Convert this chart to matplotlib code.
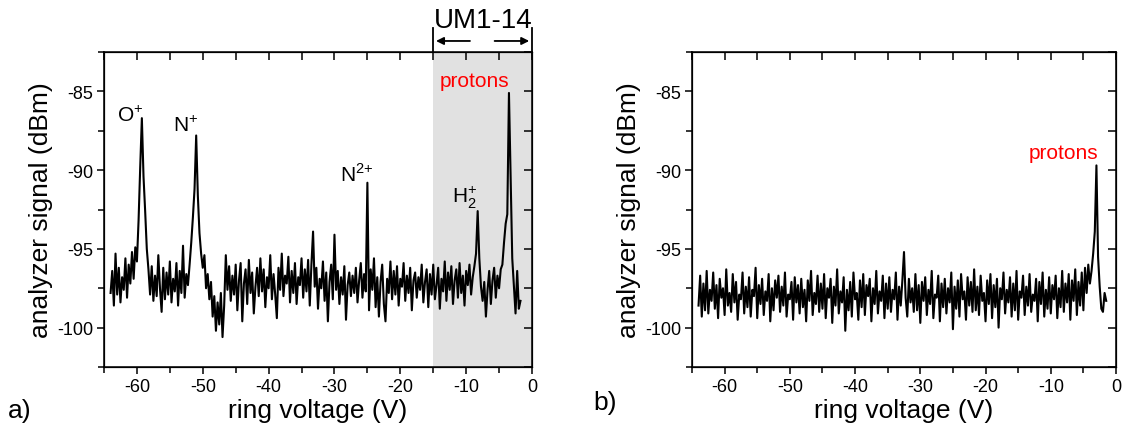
import numpy as np
import matplotlib.pyplot as plt
from matplotlib.ticker import MultipleLocator
import matplotlib.transforms as mtransforms

plt.rcParams['font.family'] = ['Liberation Sans', 'DejaVu Sans']
plt.rcParams['mathtext.fontset'] = 'custom'
plt.rcParams['mathtext.rm'] = 'Liberation Sans'
plt.rcParams['axes.unicode_minus'] = False

# panel a) scan, ring voltage from -64 V in 0.25 V steps
volt_a_start = -64.0
volt_step = 0.25
signal_a = [
    -97.8, -96.4, -98.6, -95.3, -97.9, -96.2, -98.4, -96.8, -97.6, -95.6,
    -98.1, -96.0, -97.2, -95.2, -96.9, -94.9, -95.8, -93.2, -89.8, -86.7,
    -90.4, -92.6, -95.0, -96.3, -97.9, -96.1, -98.3, -96.7, -98.0, -95.4,
    -97.5, -99.0, -96.2, -98.2, -96.5, -97.9, -95.8, -98.4, -96.9, -97.7,
    -95.9, -98.6, -96.4, -97.8, -94.8, -98.1, -96.6, -97.3, -96.0, -94.6,
    -93.0, -91.2, -87.8, -91.6, -94.0, -95.3, -96.2, -95.4, -97.5, -96.6,
    -98.2, -97.1, -99.3, -98.0, -100.2, -98.4, -99.8, -97.8, -100.6, -98.6,
    -95.4, -97.6, -96.1, -98.3, -96.7, -97.9, -96.0, -98.9, -97.0, -95.9,
    -99.6, -97.2, -96.3, -98.5, -95.7, -97.8, -96.5, -99.1, -97.4, -96.2,
    -98.0, -95.6, -97.7, -96.3, -98.7, -96.8, -97.5, -95.4, -98.2, -96.6,
    -97.9, -99.4, -96.2, -97.6, -95.3, -98.0, -96.7, -97.2, -95.5, -98.4,
    -96.4, -97.8, -95.9, -98.5, -96.8, -97.3, -95.6, -98.1, -96.3, -97.7,
    -95.7, -98.6, -96.0, -93.9, -97.4, -96.2, -98.8, -96.9, -97.5, -95.8,
    -98.3, -96.5, -99.6, -97.1, -96.0, -98.2, -94.1, -97.6, -96.4, -98.5,
    -96.8, -97.9, -96.1, -99.5, -97.3, -96.5, -98.0, -96.7, -97.8, -96.2,
    -98.4, -97.0, -95.9, -98.1, -96.6, -97.7, -90.8, -98.9, -96.3, -97.6,
    -95.6, -98.7, -96.8, -99.3, -97.1, -96.0, -98.5, -99.6, -96.9, -97.8,
    -95.8, -98.2, -96.4, -97.9, -96.1, -98.6, -96.9, -97.4, -95.9, -98.3,
    -96.7, -97.8, -96.2, -98.9, -97.0, -96.5, -98.1, -96.8, -97.6, -96.0,
    -98.4, -97.1, -96.3, -98.7, -96.6, -97.9, -96.0, -98.2, -97.3, -96.2,
    -98.8, -96.9, -97.7, -95.8, -98.3, -96.5, -97.6, -96.1, -98.5, -97.0,
    -96.3, -98.1, -95.9, -97.8, -96.7, -98.6, -96.4, -97.3, -96.0, -97.9,
    -96.8, -96.1, -95.3, -92.6, -95.6, -97.4, -98.3, -97.1, -99.3, -97.6,
    -96.4, -98.5, -97.0, -96.2, -98.1, -96.7, -97.5, -96.3, -96.0, -94.6,
    -93.4, -92.8, -85.1, -90.2, -95.6, -97.3, -99.1, -96.4, -98.8, -98.3,
]

# panel b) scan, same steps
volt_b_start = -64.0
signal_b = [
    -98.6, -96.7, -99.3, -97.2, -98.9, -96.4, -99.1, -97.6, -98.3, -96.5,
    -98.8, -97.3, -99.4, -96.9, -98.1, -97.5, -99.2, -96.3, -98.6, -97.8,
    -99.0, -96.6, -98.4, -97.1, -99.5, -97.9, -98.2, -96.5, -99.1, -97.4,
    -98.7, -96.8, -99.3, -97.6, -98.0, -96.2, -99.4, -97.3, -98.5, -96.9,
    -99.2, -97.7, -98.3, -96.6, -99.6, -97.5, -98.9, -97.0, -98.1, -96.7,
    -99.0, -97.4, -98.6, -96.5, -99.3, -97.9, -98.2, -97.1, -99.5, -96.8,
    -98.4, -97.3, -99.1, -96.9, -98.7, -97.6, -99.6, -97.0, -98.3, -96.4,
    -99.2, -97.8, -98.5, -96.7, -99.0, -97.2, -98.8, -96.6, -99.4, -97.5,
    -98.1, -96.9, -99.7, -97.4, -98.6, -96.3, -99.1, -97.7, -98.4, -96.8,
    -100.2, -97.6, -98.9, -97.1, -99.3, -96.5, -98.2, -97.8, -99.5, -97.0,
    -98.7, -96.6, -99.2, -97.3, -98.0, -96.9, -99.6, -97.5, -98.5, -96.4,
    -99.1, -97.7, -98.3, -96.7, -99.4, -97.2, -98.8, -96.8, -99.0, -97.6,
    -98.2, -96.5, -99.5, -97.4, -98.6, -97.0, -95.2, -98.1, -99.3, -96.9,
    -98.4, -97.5, -99.0, -96.6, -98.9, -97.3, -99.7, -97.1, -98.3, -96.8,
    -99.2, -97.6, -98.5, -96.4, -99.4, -97.9, -98.1, -96.7, -99.6, -97.2,
    -98.7, -96.9, -99.1, -97.5, -98.4, -96.5, -100.1, -97.4, -98.8, -97.0,
    -99.3, -96.6, -98.2, -97.7, -99.5, -96.8, -98.6, -97.1, -99.0, -96.3,
    -98.9, -97.4, -99.2, -96.7, -98.3, -97.8, -99.6, -97.0, -98.5, -96.6,
    -99.4, -97.3, -98.7, -96.9, -100.0, -97.5, -98.2, -96.5, -99.1, -97.6,
    -98.4, -96.8, -99.3, -97.2, -98.9, -96.4, -99.5, -97.7, -98.1, -96.7,
    -99.2, -97.4, -98.6, -96.6, -99.0, -97.9, -98.3, -96.9, -99.6, -97.1,
    -98.5, -96.5, -99.3, -97.6, -98.8, -96.8, -99.1, -97.3, -98.2, -96.7,
    -99.4, -97.5, -98.7, -96.4, -99.0, -97.2, -98.4, -96.6, -99.5, -97.0,
    -98.3, -96.3, -99.2, -97.1, -98.6, -96.5, -98.9, -96.2, -97.8, -96.0,
    -97.2, -96.4, -95.3, -93.9, -89.7, -95.5, -97.4, -98.8, -99.0, -97.8,
    -98.3,
]

volt_a = volt_a_start + volt_step * np.arange(len(signal_a))
volt_b = volt_b_start + volt_step * np.arange(len(signal_b))

fig = plt.figure(figsize=(11.27, 4.39), dpi=100)
ax1 = fig.add_axes([104/1127, 71/439, 428/1127, 315/439])
ax2 = fig.add_axes([692/1127, 71/439, 424/1127, 315/439])


def style(ax):
    ax.set_xlim(-65, 0)
    ax.set_ylim(-102.5, -82.5)
    ax.xaxis.set_major_locator(MultipleLocator(10))
    ax.xaxis.set_minor_locator(MultipleLocator(5))
    ax.yaxis.set_major_locator(MultipleLocator(5))
    ax.yaxis.set_minor_locator(MultipleLocator(2.5))
    ax.tick_params(which='major', direction='out', length=5, width=1.1, labelsize=13, pad=3)
    ax.tick_params(which='minor', direction='out', length=4, width=1.1)
    for s in ax.spines.values():
        s.set_linewidth(1.1)
    # mirrored ticks on top and right point inwards
    top = ax.twiny()
    top.set_xlim(ax.get_xlim())
    top.xaxis.set_major_locator(MultipleLocator(5))
    top.tick_params(direction='in', length=6, width=1.1, labeltop=False)
    right = ax.twinx()
    right.set_ylim(ax.get_ylim())
    right.yaxis.set_major_locator(MultipleLocator(2.5))
    right.tick_params(direction='in', length=6, width=1.1, labelright=False)
    ax.set_xlabel('ring voltage (V)', fontsize=19, labelpad=2)
    ax.set_ylabel('analyzer signal (dBm)', fontsize=19, labelpad=3)


# a)
ax1.axvspan(-15, 0, color='#e1e1e1', lw=0, zorder=0)
ax1.plot(volt_a, signal_a, color='black', lw=1.5)
style(ax1)
ax1.text(-61.0, -86.5, r'O$^{+}$', fontsize=15, ha='center', va='center')
ax1.text(-52.6, -87.1, r'N$^{+}$', fontsize=15, ha='center', va='center')
ax1.text(-26.6, -90.2, r'N$^{2{+}}$', fontsize=15, ha='center', va='center')
ax1.text(-10.2, -91.7, r'H$_{2}^{+}$', fontsize=15, ha='center', va='center')
ax1.text(-8.7, -84.3, 'protons', fontsize=15, color='red', ha='center', va='center')

trans = mtransforms.blended_transform_factory(ax1.transData, ax1.transAxes)
for xv in [-15, 0]:
    ax1.plot([xv, xv], [1.0, 1.076], color='black', lw=1.3, transform=trans, clip_on=False)
ax1.annotate('', xy=(-15, 1.035), xytext=(-9.0, 1.035), xycoords=trans, textcoords=trans,
             arrowprops=dict(arrowstyle='-|>', color='black', lw=1.3, mutation_scale=11))
ax1.annotate('', xy=(0, 1.035), xytext=(-6.1, 1.035), xycoords=trans, textcoords=trans,
             arrowprops=dict(arrowstyle='-|>', color='black', lw=1.3, mutation_scale=11))
ax1.text(-7.4, 1.10, 'UM1-14', fontsize=20, ha='center', va='center', transform=trans)

# b)
ax2.plot(volt_b, signal_b, color='black', lw=1.5)
style(ax2)
ax2.text(-8.1, -88.9, 'protons', fontsize=15, color='red', ha='center', va='center')

fig.text(8/1127, 1 - 418/439, 'a)', fontsize=19, ha='left', va='baseline')
fig.text(593/1127, 1 - 410/439, 'b)', fontsize=19, ha='left', va='baseline')

plt.savefig('out.png', dpi=100)
